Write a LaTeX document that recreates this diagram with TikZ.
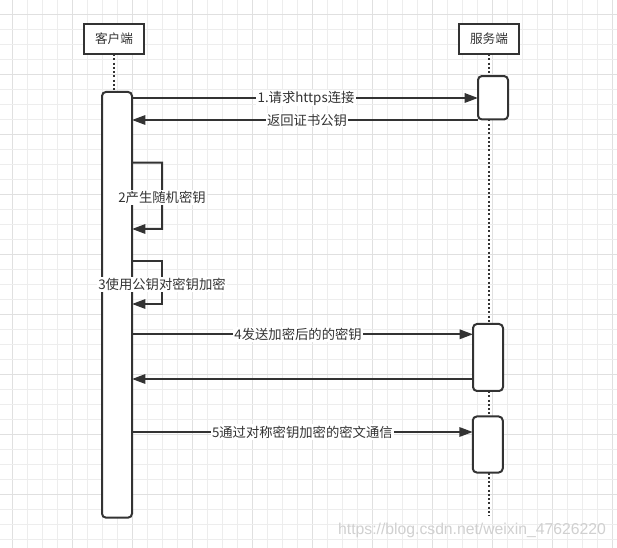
\documentclass[tikz,border=0pt]{standalone}
\usepackage{fontspec}
\setmainfont{Noto Sans CJK SC}
\newfontfamily\wmfont{Liberation Sans}
\usetikzlibrary{arrows.meta,calc}
\definecolor{ink}{HTML}{333333}
\definecolor{gridminor}{HTML}{EDEDED}
\definecolor{gridmajor}{HTML}{E0E0E0}
\definecolor{wmcol}{HTML}{D0D0D0}
\tikzset{
  actor/.style={draw=ink, line width=1.5pt, fill=white, minimum width=45pt, minimum height=22.5pt, inner sep=0pt, outer sep=0pt, font=\fontsize{9.5pt}{11pt}\selectfont, text=ink},
  bar/.style={draw=ink, line width=1.5pt, fill=white, rounded corners=3pt, minimum width=22.5pt, inner sep=0pt, outer sep=0pt},
  life/.style={ink, line width=1.5pt, dash pattern=on 1.5pt off 1.7pt},
  msg/.style={ink, line width=1.5pt, -{Triangle[length=10pt,width=7pt]}},
  lbl/.style={fill=white, inner sep=1pt, text=ink, font=\fontsize{10pt}{12pt}\selectfont},
  gminor/.style={gridminor, line width=0.75pt},
  gmajor/.style={gridmajor, line width=0.75pt}
}
\begin{document}
\begin{tikzpicture}[x=0.75pt,y=-0.75pt]
\useasboundingbox (0,0) rectangle (617,548);
\fill[white] (0,0) rectangle (617,548);
% grid
\foreach \i in {0,...,40} {
  \pgfmathtruncatemacro{\m}{mod(\i,4)}
  \ifnum\m=0
    \draw[gmajor] (12.7+15*\i,0) -- (12.7+15*\i,548);
  \else
    \draw[gminor] (12.7+15*\i,0) -- (12.7+15*\i,548);
  \fi
}
\foreach \i in {0,...,36} {
  \pgfmathtruncatemacro{\m}{mod(\i,4)}
  \ifnum\m=0
    \draw[gmajor] (0,14.3+15*\i) -- (617,14.3+15*\i);
  \else
    \draw[gminor] (0,14.3+15*\i) -- (617,14.3+15*\i);
  \fi
}
% actors
\node[actor] (ca) at (114,39) {客户端};
\node[actor] (sa) at (489,39) {服务端};
% activation bars
\node[bar, minimum height=319.3pt] (cb) at (117,304.8) {};
\node[bar, minimum height=32.6pt] (sb1) at (493,97.75) {};
\node[bar, minimum height=50.25pt] (sb2) at (488,357.5) {};
\node[bar, minimum height=42pt] (sb3) at (487.75,444.5) {};
\coordinate (send) at (489,516);
% lifelines
\draw[life] (ca.south) -- (ca.south |- cb.north);
\draw[life] (sa.south) -- (sa.south |- sb1.north);
\draw[life] (sa.south |- sb1.south) -- (sa.south |- sb2.north);
\draw[life] (sa.south |- sb2.south) -- (sa.south |- sb3.north);
\draw[life] (sa.south |- sb3.south) -- (send);
% message coordinates
\coordinate (y1) at (0,98);
\coordinate (y2) at (0,120);
\coordinate (y3a) at (0,162.7);
\coordinate (y3b) at (0,229);
\coordinate (y4a) at (0,261);
\coordinate (y4b) at (0,304);
\coordinate (y5) at (0,334.3);
\coordinate (y6) at (0,379);
\coordinate (y7) at (0,432);
% messages
\draw[msg] (cb.east |- y1) -- node[lbl, xshift=0.75pt] {1.请求https连接} (sb1.west |- y1);
\draw[msg] (sb1.west |- y2) -- node[lbl, xshift=1.5pt] {返回证书公钥} (cb.east |- y2);
\draw[msg] (cb.east |- y3a) -- ++(30,0) -- node[lbl, yshift=-1.5pt] {2产生随机密钥} ++(0,66.3) -- (cb.east |- y3b);
\draw[msg] (cb.east |- y4a) -- ++(30,0) -- node[lbl, yshift=-1.5pt] {3使用公钥对密钥加密} ++(0,43) -- (cb.east |- y4b);
\draw[msg] (cb.east |- y5) -- node[lbl, pos=0.487] {4发送加密后的的密钥} (sb2.west |- y5);
\draw[msg] (sb2.west |- y6) -- (cb.east |- y6);
\draw[msg] (cb.east |- y7) -- node[lbl] {5通过对称密钥加密的密文通信} (sb3.west |- y7);
% watermark
\node[text=wmcol, font=\wmfont\fontsize{11.8pt}{14pt}\selectfont, inner sep=0pt] (wm) at (472,530) {https://blog.csdn.net/weixin\_47626220};
\end{tikzpicture}
\end{document}
